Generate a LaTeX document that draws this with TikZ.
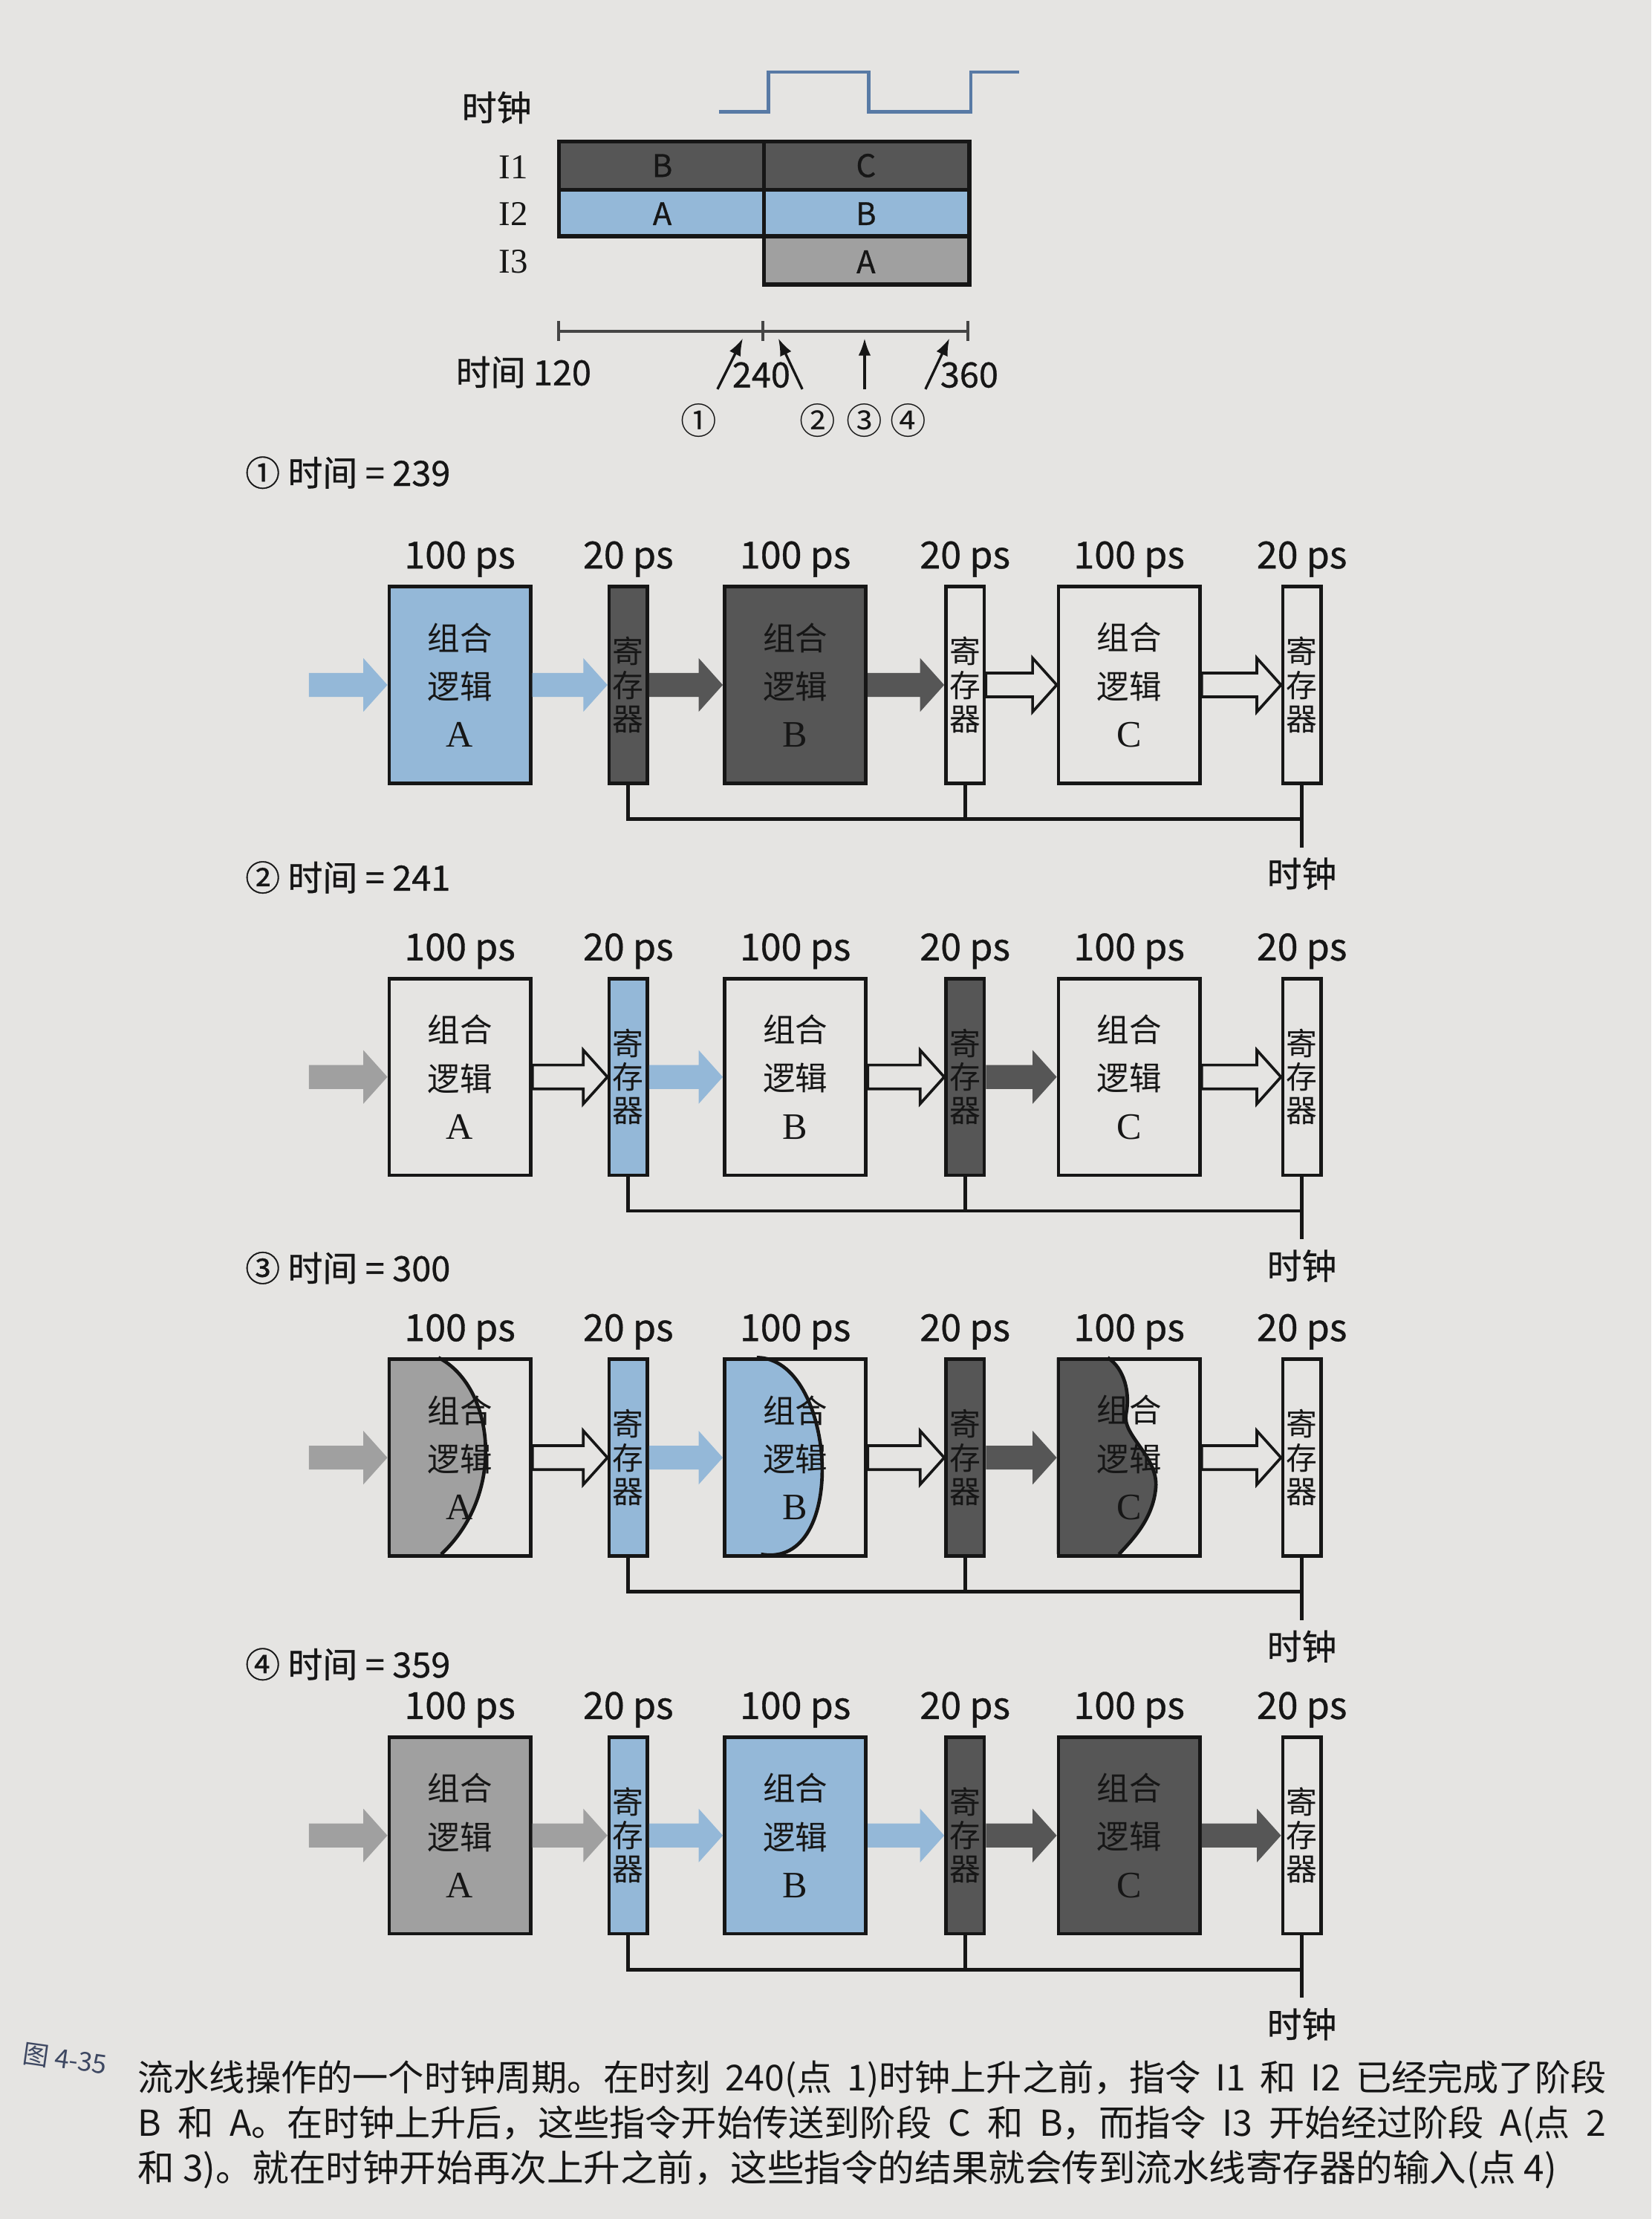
\documentclass[tikz,border=0pt]{standalone}
\usepackage{fontspec}
\setmainfont{Noto Sans CJK SC}
\newfontfamily\heavy[FakeBold=0.7]{Noto Sans CJK SC}
\newfontfamily\serifl{Liberation Serif}
\usetikzlibrary{arrows.meta,positioning,calc}

\XeTeXlinebreaklocale "zh"
\XeTeXlinebreakskip=0pt plus 2pt

\definecolor{paper}{RGB}{229,228,226}
\definecolor{ink}{RGB}{22,22,22}
\definecolor{blueA}{RGB}{148,184,216}
\definecolor{darkB}{RGB}{86,86,86}
\definecolor{midG}{RGB}{160,160,160}
\definecolor{wave}{RGB}{88,122,165}
\definecolor{capblue}{RGB}{62,72,98}

\pgfdeclarelayer{sheet}
\pgfdeclarelayer{back}
\pgfsetlayers{sheet,back,main}

% block arrow, tip on the west side of the target node
\newcommand{\flow}[3]{%
  \path[#1] let \p1=(#2.east), \p2=(#3.west) in
    (\x1,\y2+4.8pt) -- (\x2-9.7pt,\y2+4.8pt) -- (\x2-9.7pt,\y2+10.8pt) -- (\x2,\y2)
    -- (\x2-9.7pt,\y2-10.8pt) -- (\x2-9.7pt,\y2-4.8pt) -- (\x1,\y2-4.8pt) -- cycle;}
\newcommand{\stg}[1]{{\serifl\fontsize{15}{19.5}\selectfont #1}}

\begin{document}
\begin{tikzpicture}[x=0.02cm, y=-0.02cm, text=ink,
  comb/.style={draw=ink, line width=1.4pt, minimum width=2cm, minimum height=2.78cm,
    inner sep=0pt, align=center, font=\fontsize{13}{19.5}\selectfont},
  reg/.style={draw=ink, line width=1.4pt, minimum width=0.54cm, minimum height=2.78cm,
    inner sep=0pt, align=center, font=\fontsize{12.5}{13.5}\selectfont},
  ps/.style={inner sep=1pt, font=\heavy\fontsize{15}{15}\selectfont},
  lbl/.style={inner sep=2pt, font=\heavy\fontsize{14}{16}\selectfont},
  title/.style={inner sep=0pt, anchor=west, font=\heavy\fontsize{14}{16}\selectfont},
  row/.style={inner sep=1pt, font=\serifl\fontsize{14}{16}\selectfont},
  cell/.style={inner sep=1pt, font=\heavy\fontsize{12.5}{14}\selectfont},
  circ/.style={inner sep=1pt, font=\fontsize{14.5}{16}\selectfont},
  wire/.style={draw=ink, line width=1.4pt},
  frame/.style={draw=ink, line width=1.6pt},
  axis/.style={draw=ink!80, line width=1.2pt},
  ptr/.style={draw=ink, line width=1pt, -{Latex[length=7pt,width=5pt]}},
  hollow/.style={draw=ink, line width=1.1pt, fill=paper, line join=miter}]

\begin{pgfonlayer}{sheet}
  \fill[paper] (0,0) rectangle (1167,1568);
\end{pgfonlayer}
\useasboundingbox (0,0) rectangle (1167,1568);

% clock and timing chart
\node[lbl] (tc-clk) at (351,76) {时钟};
\draw[wave, line width=1.3pt] (508,79) -- (543,79) -- (543,51) -- (614,51) -- (614,79) -- (686,79) -- (686,51) -- (720,51);
\fill[darkB] (395,100) rectangle (685,134);
\fill[blueA] (395,134) rectangle (685,167);
\fill[midG] (540,167) rectangle (685,201);
\draw[frame] (395,100) rectangle (685,167) (395,134) -- (685,134) (540,100) -- (540,201) -- (685,201) -- (685,167);
\foreach \n/\y in {1/118, 2/151, 3/185}
  \node[row] (tc-i\n) at (363,\y) {I\n};
\foreach \n/\x/\y/\l in {b1/468/117/B, c1/612/117/C, a2/468/151/A, b2/612/151/B, a3/612/185/A}
  \node[cell] (tc-\n) at (\x,\y) {\l};
\draw[axis] (395,234) -- (684,234);
\foreach \x in {395,539,684} \draw[axis] (\x,227) -- (\x,241);
\node[lbl] (tc-120) at (370,263) {时间 120};
\node[lbl] (tc-240) at (538,265) {240};
\node[lbl] (tc-360) at (685,265) {360};
\foreach \n/\m/\x in {1/①/494, 2/②/578, 3/③/611, 4/④/642}
  \node[circ] (tc-m\n) at (\x,297) {\m};
\foreach \n/\sx/\tx in {1/507/525, 2/567/550, 3/611/611, 4/654/671} {
  \coordinate (tc-s\n) at (\sx,275);
  \coordinate (tc-t\n) at (\tx,239);
  \draw[ptr] (tc-s\n) -- (tc-t\n);
}

% the four snapshots of the pipeline
\foreach \p/\cn/\ty/\yc/\tm/\fa/\fr/\fb/\fs/\fc in {
    1/①/334/484/239/blueA/darkB/darkB/none/none,
    2/②/620/761/241/none/blueA/none/darkB/none,
    3/③/896/1030/300/none/blueA/none/darkB/none,
    4/④/1176/1297/359/midG/blueA/blueA/darkB/darkB} {
  \node[title] (p\p-title) at (173,\ty) {\cn\ 时间 = \tm};
  \node[inner sep=0pt, minimum size=0pt] (p\p-in) at (218,\yc) {};
  \node[comb, fill=\fa] (p\p-a) at (325,\yc) {组合\\逻辑\\\stg{A}};
  \node[reg, fill=\fr] (p\p-r1) at (444,\yc) {寄\\存\\器};
  \node[comb, fill=\fb] (p\p-b) at (562,\yc) {组合\\逻辑\\\stg{B}};
  \node[reg, fill=\fs] (p\p-r2) at (682,\yc) {寄\\存\\器};
  \node[comb, fill=\fc] (p\p-c) at (798,\yc) {组合\\逻辑\\\stg{C}};
  \node[reg] (p\p-r3) at (920,\yc) {寄\\存\\器};
  \foreach \k/\v in {a/100, r1/20, b/100, r2/20, c/100, r3/20}
    \node[ps, above=2pt of p\p-\k] (p\p-\k-ps) {\v\ ps};
  \coordinate (p\p-bus) at ($(p\p-r3.south)+(0,24)$);
  \coordinate (p\p-clk) at ($(p\p-r3.south)+(0,44)$);
  \draw[wire] (p\p-r1.south) |- (p\p-bus);
  \draw[wire] (p\p-r2.south) -- (p\p-r2.south |- p\p-bus);
  \draw[wire] (p\p-r3.south) -- (p\p-clk);
  \node[lbl, below=2pt of p\p-clk] (p\p-clklbl) {时钟};
}

% data moving between the stages
\foreach \u/\v/\k in {p1-in/p1-a/blueA, p1-a/p1-r1/blueA, p1-r1/p1-b/darkB, p1-b/p1-r2/darkB,
    p2-in/p2-a/midG, p2-r1/p2-b/blueA, p2-r2/p2-c/darkB,
    p3-in/p3-a/midG, p3-r1/p3-b/blueA, p3-r2/p3-c/darkB,
    p4-in/p4-a/midG, p4-a/p4-r1/midG, p4-r1/p4-b/blueA, p4-b/p4-r2/blueA, p4-r2/p4-c/darkB, p4-c/p4-r3/darkB}
  \flow{fill=\k}{\u}{\v};
\foreach \u/\v in {p1-r2/p1-c, p1-c/p1-r3, p2-a/p2-r1, p2-b/p2-r2, p2-c/p2-r3,
    p3-a/p3-r1, p3-b/p3-r2, p3-c/p3-r3}
  \flow{hollow}{\u}{\v};

% half-done logic in snapshot 3
\begin{pgfonlayer}{back}
  \begin{scope}[shift={(p3-a.north west)}]
    \fill[midG] (0,0) -- (36,0) .. controls (75,20) and (85,95) .. (38,139) -- (0,139) -- cycle;
    \draw[wire] (36,0) .. controls (75,20) and (85,95) .. (38,139);
  \end{scope}
  \begin{scope}[shift={(p3-b.north west)}]
    \fill[blueA] (0,0) -- (24,0) .. controls (80,0) and (90,150) .. (27,139) -- (0,139) -- cycle;
    \draw[wire] (24,0) .. controls (80,0) and (90,150) .. (27,139);
  \end{scope}
  \begin{scope}[shift={(p3-c.north west)}]
    \fill[darkB] (0,0) -- (36,0) .. controls (48,8) and (52,25) .. (49,40) .. controls (46,55) and (72,70) .. (70,92)
      .. controls (68,115) and (52,130) .. (44,139) -- (0,139) -- cycle;
    \draw[wire] (36,0) .. controls (48,8) and (52,25) .. (49,40) .. controls (46,55) and (72,70) .. (70,92)
      .. controls (68,115) and (52,130) .. (44,139);
  \end{scope}
\end{pgfonlayer}

% caption
\node[text=capblue, inner sep=0pt, rotate=-8, font=\fontsize{10.5}{12}\selectfont] (fig-no) at (46,1455) {图 4-35};
\node[anchor=west, inner sep=0pt, font=\fontsize{14.4}{16}\selectfont] (cap-1) at (97,1469)
  {\makebox[20.76cm][s]{流水线操作的一个时钟周期。在时刻 240(点 1)时钟上升之前，指令 I1 和 I2 已经完成了阶段}};
\node[anchor=west, inner sep=0pt, font=\fontsize{14.4}{16}\selectfont] (cap-2) at (97,1501)
  {\makebox[20.76cm][s]{B 和 A。在时钟上升后，这些指令开始传送到阶段 C 和 B，而指令 I3 开始经过阶段 A(点 2}};
\node[anchor=west, inner sep=0pt, font=\fontsize{14.8}{16}\selectfont] (cap-3) at (97,1533)
  {和 3)。就在时钟开始再次上升之前，这些指令的结果就会传到流水线寄存器的输入(点 4)};
\end{tikzpicture}
\end{document}
